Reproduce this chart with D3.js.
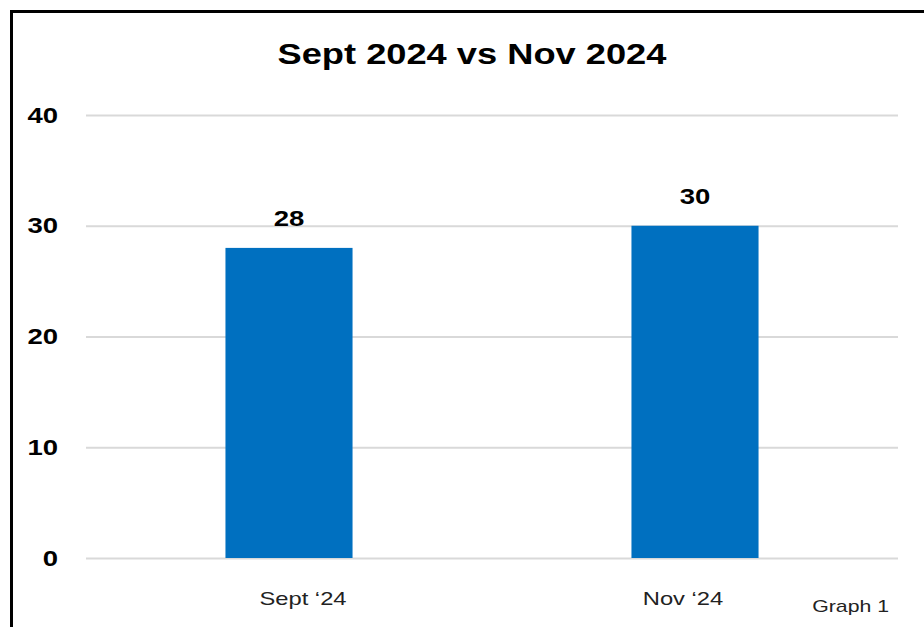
<!DOCTYPE html>
<html>
<head>
<meta charset="utf-8">
<script src="https://cdn.jsdelivr.net/npm/d3@7"></script>
<style>
  body { margin: 0; background: #fff; }
  svg { display: block; font-family: "Liberation Sans", Arial, sans-serif; }
</style>
</head>
<body>
<div id="chart"></div>
<script>
const categories = ['Sept \u201824', 'Nov \u201824'];
const values = [28, 30];
const yTicks = [0, 10, 20, 30, 40];
const labelShift = [14, -12];

const width = 924;
const height = 627;
const margin = {top: 115, right: 26, bottom: 69, left: 86};
const barColor = '#0070c0';
const stretch = 1.25; // the source picture is a bit wider than tall

const svg = d3.select('#chart').append('svg')
  .attr('width', width)
  .attr('height', height);

// widen text glyphs to match the stretched source
function widen(sel) {
  sel.each(function() {
    const len = this.getComputedTextLength();
    d3.select(this)
      .attr('textLength', len * stretch)
      .attr('lengthAdjust', 'spacingAndGlyphs');
  });
}

// frame (runs off the right and bottom edge)
svg.append('rect')
  .attr('x', 11.5).attr('y', 11.5)
  .attr('width', width).attr('height', height)
  .attr('fill', 'none')
  .attr('stroke', '#000')
  .attr('stroke-width', 3);

const x = d3.scaleBand()
  .domain(categories)
  .range([margin.left, width - margin.right])
  .paddingInner(0.687)
  .paddingOuter(0.3435);

const y = d3.scaleLinear()
  .domain([0, 40])
  .range([height - margin.bottom, margin.top]);

svg.append('text')
  .attr('x', 472)
  .attr('y', 64)
  .attr('text-anchor', 'middle')
  .attr('font-size', 29)
  .attr('font-weight', 'bold')
  .text('Sept 2024 vs Nov 2024')
  .call(widen);

const yAxis = g => g
  .attr('transform', `translate(${margin.left},0)`)
  .call(d3.axisLeft(y).tickValues(yTicks).tickSize(-(width - margin.left - margin.right)).tickPadding(28))
  .call(g => g.select('.domain').remove())
  .call(g => g.selectAll('.tick line').attr('stroke', '#d9d9d9').attr('stroke-width', 2))
  .call(g => g.selectAll('.tick text')
    .attr('fill', '#000')
    .attr('font-size', 22)
    .attr('font-weight', 'bold')
    .attr('font-family', '"Liberation Sans", Arial, sans-serif'));

svg.append('g').call(yAxis);
svg.selectAll('.tick text').call(widen);

svg.append('g')
  .selectAll('rect')
  .data(values)
  .join('rect')
    .attr('x', (d, i) => x(categories[i]))
    .attr('y', d => y(d))
    .attr('width', x.bandwidth())
    .attr('height', d => y(0) - y(d))
    .attr('fill', barColor);

svg.append('g')
  .selectAll('text')
  .data(values)
  .join('text')
    .attr('x', (d, i) => x(categories[i]) + x.bandwidth() / 2)
    .attr('y', d => y(d) - 22)
    .attr('text-anchor', 'middle')
    .attr('font-size', 22)
    .attr('font-weight', 'bold')
    .text(d => d)
    .call(widen);

svg.append('g')
  .selectAll('text')
  .data(categories)
  .join('text')
    .attr('x', (d, i) => x(d) + x.bandwidth() / 2 + labelShift[i])
    .attr('y', 605)
    .attr('text-anchor', 'middle')
    .attr('font-size', 19)
    .attr('fill', '#222')
    .text(d => d)
    .call(widen);

svg.append('text')
  .attr('x', 889)
  .attr('y', 612)
  .attr('text-anchor', 'end')
  .attr('font-size', 17)
  .attr('fill', '#222')
  .text('Graph 1')
  .call(widen);
</script>
</body>
</html>
